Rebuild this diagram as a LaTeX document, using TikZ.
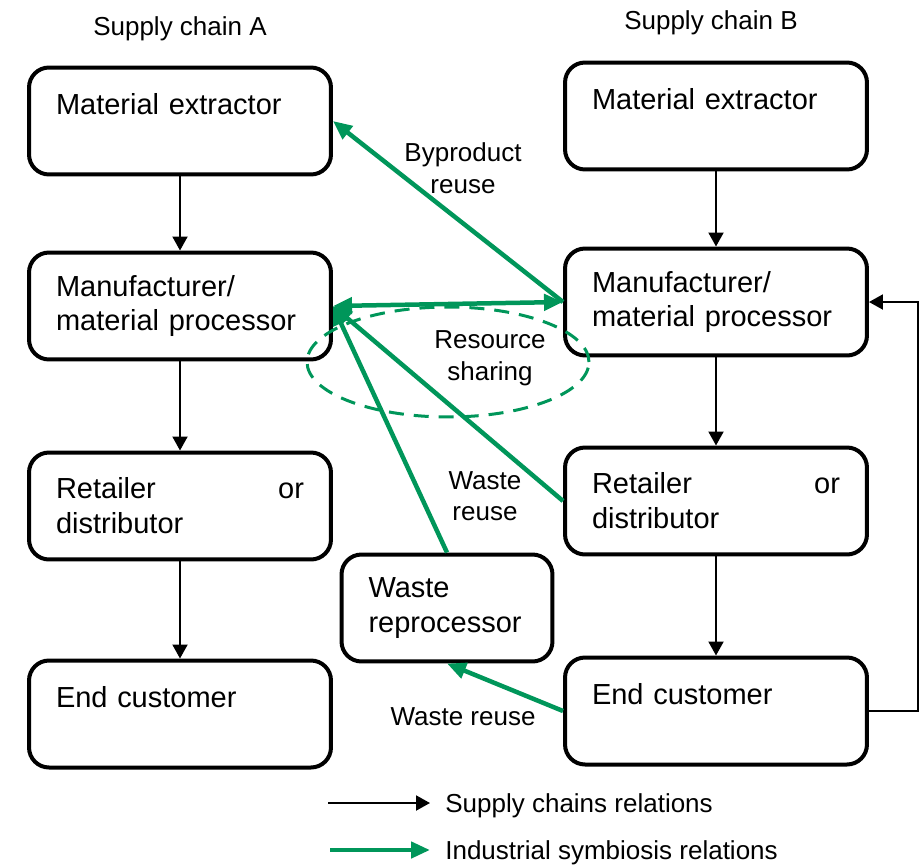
\documentclass[tikz,border=0pt]{standalone}
\usepackage{fontspec}
\setmainfont{Liberation Sans}
\usetikzlibrary{arrows.meta}
\definecolor{isgreen}{RGB}{0,150,90}
\tikzset{
	chainbox/.style={draw, line width=0.08cm, rounded corners=0.4cm, minimum width=6.04cm, minimum height=2.14cm, text width=4.96cm, inner xsep=0.54cm, align=left, font=\fontsize{16.5}{19.9}\selectfont},
	labeltext/.style={align=center, font=\fontsize{14.8}{18}\selectfont},
	flowarrow/.style={line width=0.04cm, -{Triangle[length=0.28cm,width=0.3cm]}},
	symbarrow/.style={isgreen, line width=0.09cm, -{Triangle[length=0.38cm,width=0.32cm]}},
	symbboth/.style={isgreen, line width=0.09cm, {Triangle[length=0.38cm,width=0.32cm]}-{Triangle[length=0.38cm,width=0.32cm]}},
	sharing/.style={isgreen, line width=0.06cm, dash pattern=on 0.3cm off 0.2cm}
}
\begin{document}
\begin{tikzpicture}[x=0.02cm, y=-0.02cm]
	\useasboundingbox (0,0) rectangle (922,865);
	% titles
	\node[labeltext] (titleA) at (180,29) {Supply chain A};
	\node[labeltext] (titleB) at (711,23) {Supply chain B};
	% supply chain A
	\node[chainbox] (extA) at (180,121) {Material extractor\\\mbox{}};
	\node[chainbox] (manA) at (180,306) {Manufacturer/\\material processor};
	\node[chainbox] (retA) at (180,506) {Retailer\hfill or\\distributor};
	\node[chainbox] (endA) at (180,714) {End customer\\\mbox{}};
	% supply chain B
	\node[chainbox] (extB) at (716,116) {Material extractor\\\mbox{}};
	\node[chainbox] (manB) at (716,302) {Manufacturer/\\material processor};
	\node[chainbox] (retB) at (716,501) {Retailer\hfill or\\distributor};
	\node[chainbox] (endB) at (716,711) {End customer\\\mbox{}};
	\node[chainbox, minimum width=4.22cm, text width=3.14cm] (waste) at (447,608) {Waste\\reprocessor};
	% supply chain relations
	\foreach \a/\b in {extA/manA, manA/retA, retA/endA, extB/manB, manB/retB, retB/endB}{
		\draw[flowarrow] (\a) -- (\b);
	}
	\draw[flowarrow] (endB.east) -- ++(49,0) |- (manB.east);
	% symbiosis relations
	\draw[sharing] (448,362) ellipse [x radius=2.82cm, y radius=1.1cm];
	\draw[symbarrow] (manB.west) -- (extA.east);
	\draw[symbboth] (manA.east) -- (manB.west);
	\draw[symbarrow] (retB.west) -- (manA.east);
	\draw[symbarrow] (waste.north) -- (manA.east);
	\draw[symbarrow] (endB.west) -- (waste.south);
	\node[labeltext] (lblByprod) at (463,168) {Byproduct\\reuse};
	\node[labeltext] (lblShare) at (490,358) {Resource\\sharing};
	\node[labeltext] (lblWaste) at (485,496) {Waste\\reuse};
	\node[labeltext] (lblWasteB) at (463,717) {Waste reuse};
	% legend
	\node[labeltext, anchor=base west, inner xsep=0.3cm] (legSupply) at (430,812) {Supply chains relations};
	\node[labeltext, anchor=base west, inner xsep=0.3cm] (legSymb) at (430,859) {Industrial symbiosis relations};
	\coordinate (legSupplyStart) at (328,803);
	\coordinate (legSymbStart) at (330,850);
	\draw[flowarrow] (legSupplyStart) -- (legSupply.west |- legSupplyStart);
	\draw[symbarrow] (legSymbStart) -- (legSymb.west |- legSymbStart);
\end{tikzpicture}
\end{document}
